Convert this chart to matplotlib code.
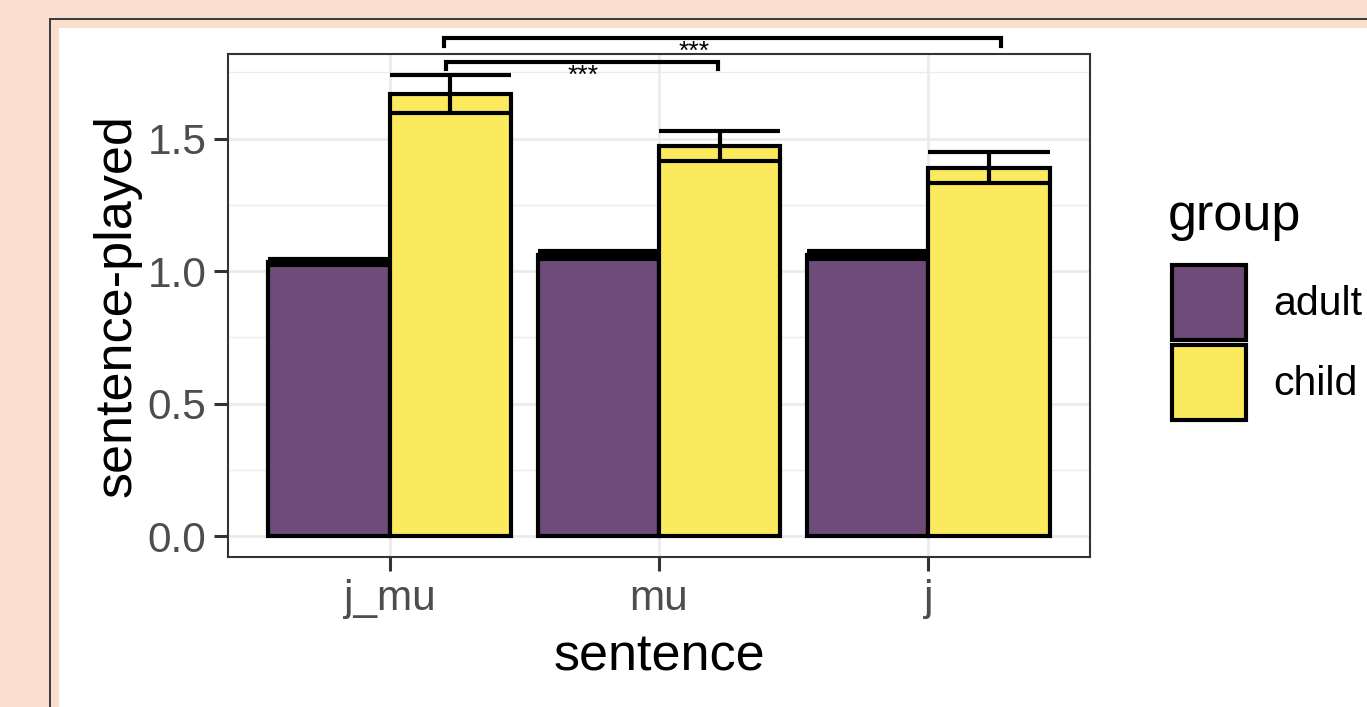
import matplotlib
matplotlib.use("Agg")
import matplotlib.pyplot as plt
from matplotlib.patches import Rectangle, Patch
import numpy as np

plt.rcParams['font.family'] = ['Liberation Sans', 'DejaVu Sans']

# data
sentences = ["j_mu", "mu", "j"]
groups = ["adult", "child"]
adult_mean = [1.034, 1.061, 1.060]
adult_se = [0.011, 0.016, 0.016]
child_mean = [1.668, 1.472, 1.390]
child_se = [0.070, 0.057, 0.058]
group_colors = ["#6F4B79", "#FCEA5E"]
y_ticks = [0.0, 0.5, 1.0, 1.5]
y_ticklabels = ["0.0", "0.5", "1.0", "1.5"]
# significance brackets: (x_start, x_end, y, label, label_x)
sig_brackets = [(1.20, 3.27, 1.879, "***", 2.13), (1.21, 2.22, 1.789, "***", 1.72)]

W, H = 1367, 707
fig = plt.figure(figsize=(W / 100, H / 100), dpi=100)
fig.patch.set_facecolor("#FADFCF")

# card border and white inner area
fig.add_artist(Rectangle((50 / W, -0.1), 2, 1 - 19 / H + 0.1, transform=fig.transFigure,
                         facecolor="none", edgecolor="#3a3a3a", linewidth=1.4, zorder=-10))
fig.add_artist(Rectangle((59 / W, -0.1), 2, 1 - 28 / H + 0.1, transform=fig.transFigure,
                         facecolor="white", edgecolor="none", zorder=-9))

ax = fig.add_axes([228 / W, 1 - 557 / H, (1090 - 228) / W, (557 - 54) / H])
ax.set_facecolor("white")

x = np.arange(1, len(sentences) + 1)
bw = 0.45
lw = 3.0
means = [adult_mean, child_mean]
ses = [adult_se, child_se]
offsets = [-bw / 2, bw / 2]

for g in range(len(groups)):
    xs = x + offsets[g]
    m = np.array(means[g])
    s = np.array(ses[g])
    ax.bar(xs, m, width=bw, color=group_colors[g], edgecolor="black",
           linewidth=lw, zorder=2)
    ax.vlines(xs, m - s, m + s, color="black", linewidth=lw, zorder=3)
    ax.hlines(m - s, xs - bw / 2, xs + bw / 2, color="black", linewidth=lw, zorder=3)
    ax.hlines(m + s, xs - bw / 2, xs + bw / 2, color="black", linewidth=lw, zorder=3)

# significance brackets
for x0, x1, yb, lab, lx in sig_brackets:
    ax.plot([x0, x0, x1, x1], [yb - 0.028, yb, yb, yb - 0.028], color="black",
            linewidth=3.0, clip_on=False, zorder=4, solid_joinstyle="miter")
    ax.text(lx, yb - 0.008, lab, ha="center", va="top", fontsize=19, clip_on=False)

ax.set_xlim(0.4, 3.6)
ax.set_ylim(-0.079, 1.819)
ax.set_xticks(x)
ax.set_xticklabels(sentences)
ax.set_yticks(y_ticks)
ax.set_yticklabels(y_ticklabels)
ax.set_yticks([0.25, 0.75, 1.25, 1.75], minor=True)

ax.grid(True, which="major", color="#EBEBEB", linewidth=2.0, zorder=0)
ax.grid(True, which="minor", axis="y", color="#EBEBEB", linewidth=1.0, zorder=0)
ax.set_axisbelow(True)

for sp in ax.spines.values():
    sp.set_color("#333333")
    sp.set_linewidth(1.5)

ax.tick_params(axis="both", which="major", length=10, width=2.2, color="#333333",
               labelsize=30.5, labelcolor="#4D4D4D", pad=5.5)
ax.tick_params(axis="y", which="minor", length=0)

ax.set_xlabel("sentence", fontsize=37.5, color="black", labelpad=10)
ax.set_ylabel("sentence-played", fontsize=37.5, color="black", labelpad=4)

# legend: title drawn as its own text, keys below it
fig.text(1168 / W, 1 - 230 / H, "group", fontsize=37.5, ha="left", va="baseline")
handles = [Patch(facecolor=c, edgecolor="black", linewidth=3.0) for c in group_colors]
leg = fig.legend(handles, groups, loc="upper left", bbox_to_anchor=(1172 / W, 1 - 265 / H),
                 frameon=False, fontsize=29.5, borderpad=0, borderaxespad=0,
                 handlelength=1.80, handleheight=2.44, labelspacing=0.12,
                 handletextpad=0.68)

fig.savefig("out.png", dpi=100, facecolor=fig.get_facecolor())
